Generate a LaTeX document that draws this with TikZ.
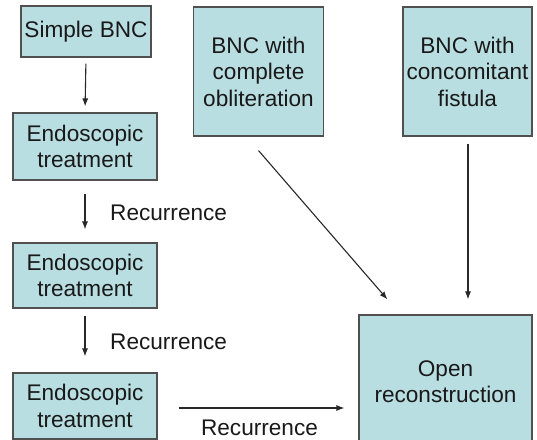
\documentclass[tikz,border=0pt]{standalone}
\usepackage{fontspec}
\setmainfont{Liberation Sans}
\usetikzlibrary{arrows.meta,calc}
\definecolor{boxfill}{RGB}{185,222,226}
\definecolor{boxline}{RGB}{80,80,80}
\definecolor{arrowline}{RGB}{40,40,40}
\begin{document}
\begin{tikzpicture}[x=1bp,y=-1bp,
  stepbox/.style={draw=boxline,line width=1.1bp,fill=boxfill,align=center,
    inner sep=0pt,font=\fontsize{22.6bp}{26.5bp}\selectfont,text=black!90},
  flow/.style={draw=arrowline,line width=1.1bp,
    -{Latex[length=8bp,width=6bp]}},
  lbl/.style={inner sep=0pt,font=\fontsize{22.6bp}{26.5bp}\selectfont,text=black!90}]
\clip (0,0) rectangle (537,440);
\fill[white] (0,0) rectangle (537,440);

% left column
\node[stepbox,minimum width=130bp,minimum height=51bp] (simple) at (86,31.5) {Simple BNC};
\node[stepbox,minimum width=144bp,minimum height=67bp] (endoA) at (85,146.5) {Endoscopic\\treatment};
\node[stepbox,minimum width=144bp,minimum height=65bp] (endoB) at (85,275.5) {Endoscopic\\treatment};
\node[stepbox,minimum width=144bp,minimum height=66bp] (endoC) at (85,406) {Endoscopic\\treatment};

% upper right
\node[stepbox,minimum width=130bp,minimum height=129bp] (oblit) at (258.5,71.5) {BNC with\\complete\\obliteration};
\node[stepbox,minimum width=129bp,minimum height=129bp] (fistula) at (467.5,71.5) {BNC with\\concomitant\\fistula};

% outcome
\node[stepbox,minimum width=173bp,minimum height=133bp] (open) at (445.5,381.5) {Open\\reconstruction};

% connectors
\draw[flow,shorten <=6bp,shorten >=6bp] (simple.south) -- (endoA.north);
\draw[flow,shorten <=13bp,shorten >=13bp] (endoA.south) -- (endoB.north);
\draw[flow,shorten <=7bp,shorten >=16bp] (endoB.south) -- (endoC.north);
\draw[flow] ($(endoC.east)+(21,2)$) -- ($(open.west|-endoC.east)+(-14,2)$);
\draw[flow] ($(oblit.south)+(0,14)$) -- ($(open.north west)+(29,-15)$);
\draw[flow] ($(fistula.south)+(0.5,7)$) -- ($(fistula.south|-open.north)+(0.5,-15)$);

% labels
\node[lbl,anchor=west] (rec1) at (110,213) {Recurrence};
\node[lbl,anchor=west] (rec2) at (110,342) {Recurrence};
\node[lbl] (rec3) at (259.5,427.5) {Recurrence};
\end{tikzpicture}
\end{document}
